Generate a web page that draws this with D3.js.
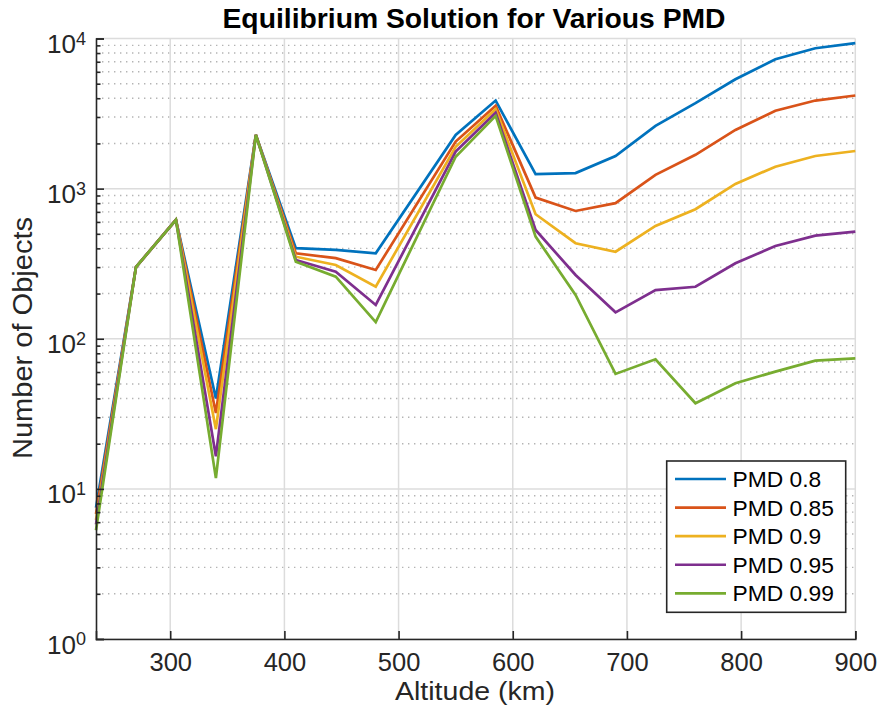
<!DOCTYPE html>
<html>
<head>
<meta charset="utf-8">
<script src="https://cdn.jsdelivr.net/npm/d3@7"></script>
<style>
  html, body { margin: 0; padding: 0; background: #fff; }
  svg { display: block; font-family: "Liberation Sans", Arial, Helvetica, sans-serif; }
</style>
</head>
<body>
<svg id="chart" width="879" height="715"></svg>
<script>
// ---- data ----
const altitudes = [235, 270, 305, 340, 375, 410, 445, 480, 550, 585, 620, 655, 690, 725, 760, 795, 830, 865, 900];
const seriesNames = ["PMD 0.8", "PMD 0.85", "PMD 0.9", "PMD 0.95", "PMD 0.99"];
const pmd080 = [7.5, 300, 620, 40, 2280, 401, 391, 371, 2280, 3860, 1250, 1270, 1650, 2620, 3710, 5350, 7280, 8610, 9310];
const pmd085 = [6.8, 300, 620, 32, 2280, 371, 344, 287, 2060, 3560, 871, 710, 800, 1234, 1680, 2460, 3300, 3860, 4170];
const pmd090 = [6.2, 300, 620, 25, 2280, 352, 310, 222, 1900, 3380, 675, 433, 380, 564, 729, 1075, 1400, 1650, 1780];
const pmd095 = [5.8, 300, 620, 16.5, 2280, 335, 280, 168, 1765, 3200, 530, 266, 150, 211, 222, 318, 415, 486, 517];
const pmd099 = [5.3, 300, 620, 11.8, 2280, 326, 259, 129, 1630, 3050, 479, 196, 58.3, 73, 37.2, 50.5, 60.4, 71.5, 74];
const seriesColors = ["#0072BD", "#D95319", "#EDB120", "#7E2F8E", "#77AC30"];
const xTicks = [300, 400, 500, 600, 700, 800, 900];
const yTicks = [1, 10, 100, 1000, 10000];
const yExponents = ["0", "1", "2", "3", "4"];

const allSeries = [pmd080, pmd085, pmd090, pmd095, pmd099];

// ---- layout ----
const svg = d3.select("#chart");
const pL = 96, pR = 855.3, pT = 38.5, pB = 639;
const x = d3.scaleLinear().domain([235, 900]).range([pL, pR]);
const y = d3.scaleLog().domain([1, 10000]).range([pB, pT]);
const axisColor = "#262626";

// minor values
const minorVals = [];
for (let e = 0; e < 4; e++) for (let m = 2; m <= 9; m++) minorVals.push(m * Math.pow(10, e));

// minor grid (dotted)
svg.append("g").selectAll("line").data(minorVals).join("line")
  .attr("x1", pL).attr("x2", pR)
  .attr("y1", d => y(d)).attr("y2", d => y(d))
  .attr("stroke", "#b4b4b4").attr("stroke-width", 1.4)
  .attr("stroke-dasharray", "1.4,4.6");

// major grid
const gridG = svg.append("g");
gridG.selectAll("line.gy").data(yTicks).join("line").attr("class", "gy")
  .attr("x1", pL).attr("x2", pR)
  .attr("y1", d => y(d)).attr("y2", d => y(d))
  .attr("stroke", "#dcdcdc").attr("stroke-width", 1.5);
gridG.selectAll("line.gx").data(xTicks).join("line").attr("class", "gx")
  .attr("x1", d => x(d)).attr("x2", d => x(d))
  .attr("y1", pT).attr("y2", pB)
  .attr("stroke", "#dcdcdc").attr("stroke-width", 1.5);

// lines
const line = d3.line().x((d, i) => x(altitudes[i])).y(d => y(d));
svg.append("g").selectAll("path").data(allSeries).join("path")
  .attr("d", d => line(d))
  .attr("fill", "none")
  .attr("stroke", (d, i) => seriesColors[i])
  .attr("stroke-width", 2.7)
  .attr("stroke-linejoin", "miter");

// x axis
const xAxis = svg.append("g").attr("transform", `translate(0,${pB})`)
  .call(d3.axisBottom(x).tickValues(xTicks).tickSize(-8).tickPadding(14).tickFormat(d3.format("d")));
xAxis.select(".domain").attr("stroke", axisColor).attr("stroke-width", 1.6);
xAxis.selectAll(".tick line").attr("stroke", axisColor).attr("stroke-width", 1.6);
xAxis.selectAll(".tick text").attr("fill", axisColor).attr("font-size", 25.5)
  .attr("y", 31.5).attr("dy", null);

// y minor ticks
const yMinor = svg.append("g").attr("transform", `translate(${pL},0)`)
  .call(d3.axisLeft(y).tickValues(minorVals).tickSize(-4.5).tickFormat(""));
yMinor.select(".domain").remove();
yMinor.selectAll(".tick line").attr("stroke", axisColor).attr("stroke-width", 1.6);

// y axis major
const yAxis = svg.append("g").attr("transform", `translate(${pL},0)`)
  .call(d3.axisLeft(y).tickValues(yTicks).tickSize(-8).tickFormat(() => ""));
yAxis.select(".domain").attr("stroke", axisColor).attr("stroke-width", 1.6);
yAxis.selectAll(".tick line").attr("stroke", axisColor).attr("stroke-width", 1.6);
yAxis.selectAll(".tick text").remove();
yAxis.selectAll(".tick").each(function(d) {
  const t = d3.select(this).append("text")
    .attr("fill", axisColor).attr("text-anchor", "end")
    .attr("x", -10).attr("y", 14);
  t.append("tspan").attr("font-size", 26).text("10");
  t.append("tspan").attr("font-size", 18).attr("dy", -8.5).text(yExponents[yTicks.indexOf(d)]);
});

// title
svg.append("text").attr("x", 474).attr("y", 28)
  .attr("text-anchor", "middle").attr("font-weight", "bold").attr("font-size", 27.5)
  .attr("textLength", 503).attr("lengthAdjust", "spacingAndGlyphs")
  .attr("fill", "#000").text("Equilibrium Solution for Various PMD");

// x label
svg.append("text").attr("x", 475).attr("y", 700)
  .attr("text-anchor", "middle").attr("font-size", 25).attr("fill", axisColor)
  .attr("textLength", 160).attr("lengthAdjust", "spacingAndGlyphs")
  .text("Altitude (km)");

// y label
svg.append("text").attr("transform", "translate(32,338) rotate(-90)")
  .attr("text-anchor", "middle").attr("font-size", 27).attr("fill", axisColor)
  .attr("textLength", 242).attr("lengthAdjust", "spacingAndGlyphs")
  .text("Number of Objects");

// legend
const lg = svg.append("g");
lg.append("rect").attr("x", 666.7).attr("y", 461).attr("width", 179).attr("height", 151.3)
  .attr("fill", "#fff").attr("stroke", axisColor).attr("stroke-width", 1.6);
const lgY = d3.scalePoint().domain(seriesNames).range([479, 593.3]);
seriesNames.forEach((name, i) => {
  const yy = lgY(name);
  lg.append("line").attr("x1", 675).attr("x2", 726).attr("y1", yy).attr("y2", yy)
    .attr("stroke", seriesColors[i]).attr("stroke-width", 2.7);
  lg.append("text").attr("x", 732.5).attr("y", yy + 8)
    .attr("font-size", 22.8).attr("fill", "#000").text(name);
});
</script>
</body>
</html>
